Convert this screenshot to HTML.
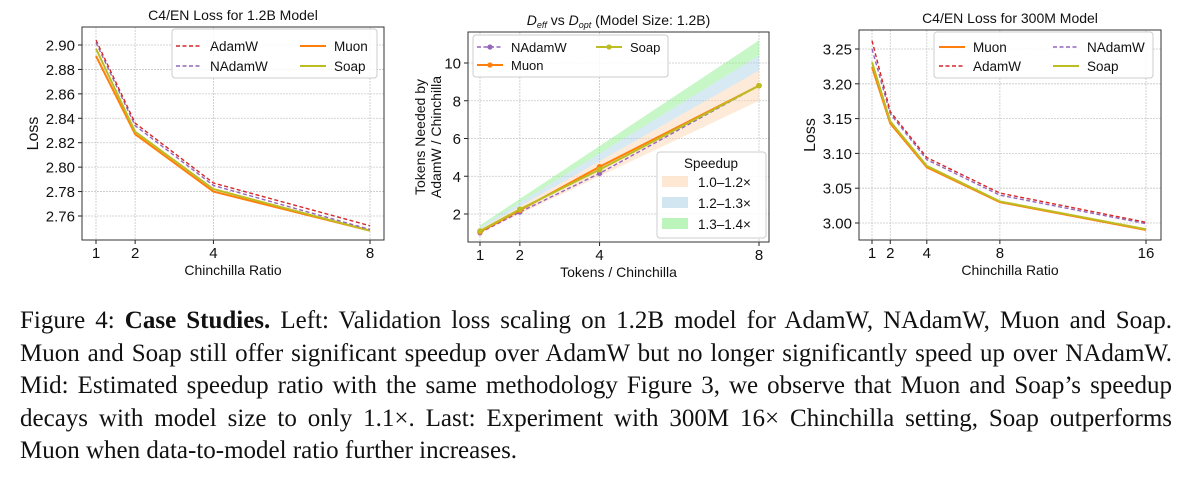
<!DOCTYPE html>
<html><head><meta charset="utf-8"><style>
body{margin:0;background:#fff;width:1193px;height:478px;overflow:hidden;position:relative}
svg{position:absolute;left:0;top:0}
#cap{position:absolute;left:20px;top:305px;width:1152px;font-family:"Liberation Serif",serif;font-size:25px;color:#111;line-height:32.5px}
.ln{text-align:justify;text-align-last:justify;white-space:nowrap;height:32.5px}
.ln.last{text-align-last:left}
</style></head><body>
<svg id="fig" width="1193" height="290" font-family="Liberation Sans, DejaVu Sans, sans-serif"></svg>
<div id="cap">
<div class="ln">Figure 4: <b>Case Studies.</b> Left: Validation loss scaling on 1.2B model for AdamW, NAdamW, Muon and Soap.</div>
<div class="ln">Muon and Soap still offer significant speedup over AdamW but no longer significantly speed up over NAdamW.</div>
<div class="ln">Mid: Estimated speedup ratio with the same methodology Figure 3, we observe that Muon and Soap’s speedup</div>
<div class="ln">decays with model size to only 1.1×. Last: Experiment with 300M 16× Chinchilla setting, Soap outperforms</div>
<div class="ln last">Muon when data-to-model ratio further increases.</div>
</div>
<script>
// Chart 1 data
const c1X=[1,2,4,8];
const c1Adam=[2.904,2.836,2.787,2.752];
const c1NAdam=[2.902,2.834,2.785,2.749];
const c1Muon=[2.891,2.827,2.780,2.748];
const c1Soap=[2.897,2.829,2.782,2.748];
const c1YTicks=[2.76,2.78,2.80,2.82,2.84,2.86,2.88,2.90];
// Chart 2 data
const c2X=[1,2,4,8];
const c2NAdam=[1.0,2.1,4.15,8.8];
const c2Muon=[1.05,2.2,4.5,8.8];
const c2Soap=[1.1,2.25,4.35,8.8];
const c2Bands=[1.0,1.2,1.3,1.4];
const c2YTicks=[2,4,6,8,10];
// Chart 3 data
const c3X=[1,2,4,8,16];
const c3Muon=[3.224,3.143,3.080,3.030,2.990];
const c3Soap=[3.231,3.146,3.082,3.031,2.991];
const c3Adam=[3.262,3.160,3.094,3.043,3.001];
const c3NAdam=[3.250,3.157,3.091,3.040,2.999];
const c3YTicks=[3.00,3.05,3.10,3.15,3.20,3.25];

const NS="http://www.w3.org/2000/svg";
const svg=document.getElementById('fig');
function el(t,a,p){const e=document.createElementNS(NS,t);for(const k in a)e.setAttribute(k,a[k]);(p||svg).appendChild(e);return e;}
function txt(s,a,p){const e=el('text',a,p);e.textContent=s;return e;}
const C={adam:'#d62728',nadam:'#9467bd',muon:'#ff7f0e',soap:'#bcbd22'};

function axes(o){
  const g=el('g',{});
  
  
  const sx=v=>o.x0+(v-o.xa)*(o.x1-o.x0)/(o.xb-o.xa);
  const sy=v=>o.y0+(v-o.ya)*(o.y1-o.y0)/(o.yb-o.ya);
  const gg=el('g',{},g);
  
  
  o.xt.forEach(v=>{el('line',{x1:sx(v),x2:sx(v),y1:o.T,y2:o.B,stroke:'#c8c8c8','stroke-width':0.8,'stroke-dasharray':'2,1'},gg);
    const t=txt(String(v),{x:sx(v),y:o.B+18,'font-size':15,'text-anchor':'middle',fill:'#111'},g);
    
    el('line',{x1:sx(v),x2:sx(v),y1:o.B,y2:o.B+4,stroke:'#222'},g);});
  o.yt.forEach(v=>{el('line',{x1:o.L,x2:o.R,y1:sy(v),y2:sy(v),stroke:'#c8c8c8','stroke-width':0.8,'stroke-dasharray':'2,1'},gg);
    const t=txt(o.fmt(v),{x:o.L-7,y:sy(v)+5.5,'font-size':15,'text-anchor':'end',fill:'#111'},g);
    
    el('line',{x1:o.L-4,x2:o.L,y1:sy(v),y2:sy(v),stroke:'#222'},g);});
  const tt=txt(o.title,{x:(o.L+o.R)/2,y:o.T-7,'font-size':14,'text-anchor':'middle',fill:'#111'},g);
  
  if(o.titleHTML){tt.textContent='';tt.innerHTML=o.titleHTML;}
  const xl=txt(o.xlabel,{x:(o.L+o.R)/2,y:o.B+35,'font-size':14,'text-anchor':'middle',fill:'#111'},g);
  
  o.ylabel.forEach((s,i)=>{const yl=txt(s,{transform:`translate(${o.yx+i*16},${(o.T+o.B)/2}) rotate(-90)`,'font-size':o.ylfs||16,'text-anchor':'middle',fill:'#111'},g);
    });
  return {g,sx,sy,frame(){const f=el('rect',{x:o.L,y:o.T,width:o.R-o.L,height:o.B-o.T,fill:'none',stroke:'#333','stroke-width':1},g);}};
}
function series(a,xs,ys,color,dash,name,marker){
  const d=xs.map((x,i)=>(i?'L':'M')+a.sx(x)+','+a.sy(ys[i])).join('');
  const p=el('path',{d,fill:'none',stroke:color,'stroke-width':dash?1.4:2,'stroke-dasharray':dash?'4,2.5':'none'},a.g);
  
  if(marker)xs.forEach((x,i)=>{const c=el('circle',{cx:a.sx(x),cy:a.sy(ys[i]),r:marker,fill:color},a.g);
    });
}
function legend(g,x,y,w,h,items,name){
  const lg=el('g',{},g);
  
  el('rect',{x,y,width:w,height:h,rx:3,fill:'#fff','fill-opacity':0.85,stroke:'#ccc'},lg);
  items.forEach(it=>{
    if(it.band){el('rect',{x:it.x,y:it.y-6,width:26,height:11,fill:it.color,'fill-opacity':it.op},lg);}
    else{el('line',{x1:it.x,x2:it.x+26,y1:it.y,y2:it.y,stroke:it.color,'stroke-width':it.dash?1.4:2,'stroke-dasharray':it.dash?'4,2.5':'none'},lg);
      if(it.m)el('circle',{cx:it.x+13,cy:it.y,r:2.6,fill:it.color},lg);}
    const t=txt(it.label,{x:it.x+(it.band?36:34),y:it.y+5,'font-size':it.fs||13.5,fill:'#111'},lg);
    
  });
}

// Chart 1
let a=axes({name:'chart-1-2b-loss',L:82,R:384,T:27,B:240,x0:96,x1:370,xa:1,xb:8,y0:216,y1:45,ya:2.76,yb:2.90,
  xt:c1X,yt:c1YTicks,fmt:v=>v.toFixed(2),title:'C4/EN Loss for 1.2B Model',xlabel:'Chinchilla Ratio',ylabel:['Loss'],yx:38});
series(a,c1X,c1Muon,C.muon,false,'muon');
series(a,c1X,c1Soap,C.soap,false,'soap');
series(a,c1X,c1NAdam,C.nadam,true,'nadamw');
series(a,c1X,c1Adam,C.adam,true,'adamw');
legend(a.g,172,29,205,49,[{x:176,y:46,color:C.adam,dash:1,label:'AdamW'},{x:176,y:66,color:C.nadam,dash:1,label:'NAdamW'},
  {x:300,y:46,color:C.muon,label:'Muon'},{x:300,y:66,color:C.soap,label:'Soap'}],'legend');
a.frame();

// Chart 2
a=axes({name:'chart-2-deff-vs-dopt',L:468,R:769,T:32,B:242,x0:480,x1:759,xa:1,xb:8,y0:214,y1:63,ya:2,yb:10,
  xt:c2X,yt:c2YTicks,fmt:v=>String(v),title:'',titleHTML:'<tspan font-style="italic">D</tspan><tspan font-style="italic" font-size="9" dy="3">eff</tspan><tspan dy="-3"> vs </tspan><tspan font-style="italic">D</tspan><tspan font-style="italic" font-size="9" dy="3">opt</tspan><tspan dy="-3"> (Model Size: 1.2B)</tspan>',
  xlabel:'Tokens / Chinchilla',ylabel:['Tokens Needed by','AdamW / Chinchilla'],yx:425,ylfs:14});
const bandCols=['#fdd0a8','#a6cee3','#90ee90'];
const bandOps=[0.45,0.45,0.5];
const bx=[1,8];
for(let i=0;i<3;i++){
  const lo=c2Bands[i],hi=c2Bands[i+1];
  const d='M'+a.sx(bx[0])+','+a.sy(bx[0]*lo)+'L'+a.sx(bx[1])+','+a.sy(bx[1]*lo)+'L'+a.sx(bx[1])+','+a.sy(bx[1]*hi)+'L'+a.sx(bx[0])+','+a.sy(bx[0]*hi)+'Z';
  const p=el('path',{d,fill:bandCols[i],'fill-opacity':bandOps[i]},a.g);
  
}
series(a,c2X,c2NAdam,C.nadam,true,'nadamw',2.6);
series(a,c2X,c2Muon,C.muon,false,'muon',2.8);
series(a,c2X,c2Soap,C.soap,false,'soap',2.8);
legend(a.g,473,35,195,42,[{x:477,y:47,color:C.nadam,dash:1,m:1,label:'NAdamW',fs:13},{x:477,y:65,color:C.muon,m:1,label:'Muon',fs:13},
  {x:596,y:47,color:C.soap,m:1,label:'Soap',fs:13}],'legend-optimizers');
legend(a.g,657,152,109,86,[{x:662,y:182,band:1,color:bandCols[0],op:0.5,label:'1.0–1.2×'},{x:662,y:203,band:1,color:bandCols[1],op:0.5,label:'1.2–1.3×'},
  {x:662,y:224,band:1,color:bandCols[2],op:0.6,label:'1.3–1.4×'}],'legend-speedup');
const st=txt('Speedup',{x:711,y:168,'font-size':13.5,'text-anchor':'middle',fill:'#111'},a.g);

a.frame();

// Chart 3
a=axes({name:'chart-3-300m-loss',L:859,R:1161,T:30,B:240,x0:872,x1:1146,xa:1,xb:16,y0:223,y1:49,ya:3.00,yb:3.25,
  xt:c3X,yt:c3YTicks,fmt:v=>v.toFixed(2),title:'C4/EN Loss for 300M Model',xlabel:'Chinchilla Ratio',ylabel:['Loss'],yx:815});
series(a,c3X,c3Muon,C.muon,false,'muon');
series(a,c3X,c3Soap,C.soap,false,'soap');
series(a,c3X,c3NAdam,C.nadam,true,'nadamw');
series(a,c3X,c3Adam,C.adam,true,'adamw');
legend(a.g,934,32,219,46,[{x:939,y:47,color:C.muon,label:'Muon'},{x:939,y:66,color:C.adam,dash:1,label:'AdamW'},
  {x:1053,y:47,color:C.nadam,dash:1,label:'NAdamW'},{x:1053,y:66,color:C.soap,label:'Soap'}],'legend');
a.frame();
</script>
</body></html>
